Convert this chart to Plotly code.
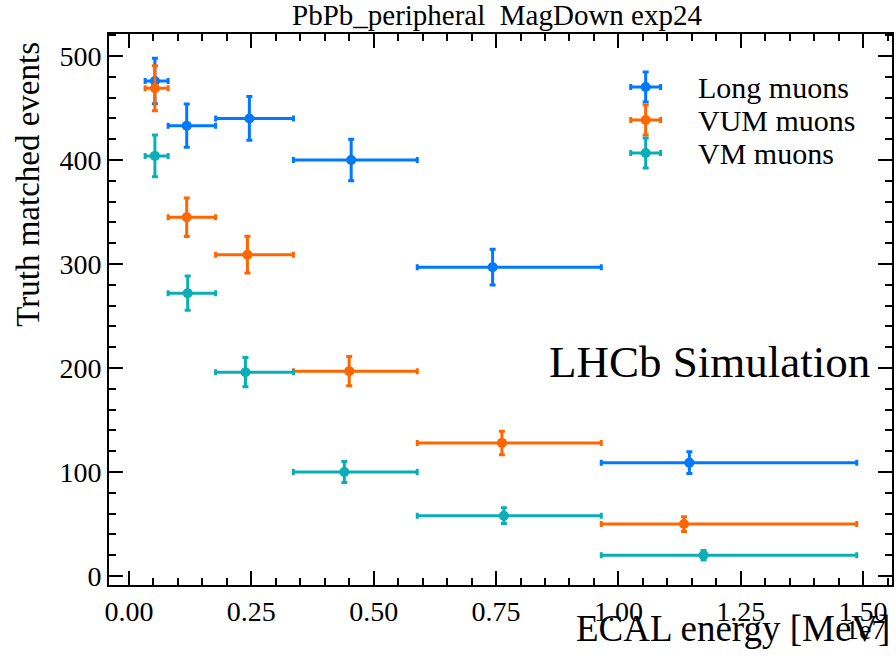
import plotly.graph_objects as go

# Bin edges in ECAL energy
bin_lo = [0.033, 0.080, 0.177, 0.336, 0.589, 0.965]
bin_hi = [0.080, 0.177, 0.336, 0.589, 0.965, 1.487]

# Mean energy in each bin, counts and uncertainties per muon category
long_x = [0.053, 0.118, 0.246, 0.454, 0.743, 1.145]
long_y = [476, 433, 440, 400, 297, 109]
long_err = [21.8, 20.8, 21.0, 20.0, 17.2, 10.4]

vum_x = [0.053, 0.118, 0.242, 0.450, 0.762, 1.134]
vum_y = [469, 345, 309, 197, 128, 50]
vum_err = [21.7, 18.6, 17.6, 14.0, 11.3, 7.1]

vm_x = [0.053, 0.120, 0.238, 0.440, 0.766, 1.174]
vm_y = [404, 272, 196, 100, 58, 20]
vm_err = [20.1, 16.5, 14.0, 10.0, 7.6, 4.5]

names = ["Long muons", "VUM muons", "VM muons"]
colors = ["#0078FF", "#FF6600", "#0AAFB6"]
series = list(zip(names, [long_x, vum_x, vm_x], [long_y, vum_y, vm_y],
                  [long_err, vum_err, vm_err], colors))

FONT = "Liberation Serif"

fig = go.Figure()
for name, xs, ys, es, col in series:
    plus = [h - x for h, x in zip(bin_hi, xs)]
    minus = [x - l for l, x in zip(bin_lo, xs)]
    fig.add_trace(go.Scatter(
        x=xs, y=ys, name=name, mode="markers", showlegend=False,
        marker=dict(color=col, size=10, symbol="circle"),
        error_y=dict(type="data", array=es, color=col, thickness=3, width=3),
        error_x=dict(type="data", array=plus, arrayminus=minus, color=col,
                     thickness=3, width=3),
    ))

# Legend: error-bar cross glyphs on an overlay axis spanning the plot area,
# with the entry labels as text next to them
leg_x = 0.6854
leg_rows = [0.9038, 0.8439, 0.7840]
leg_dx = 0.0191
leg_dy = 0.0272
for name, col, ly in zip(names, colors, leg_rows):
    fig.add_trace(go.Scatter(
        x=[leg_x], y=[ly], mode="markers", showlegend=False, hoverinfo="skip",
        xaxis="x2", yaxis="y2",
        marker=dict(color=col, size=10, symbol="circle"),
        error_y=dict(type="data", array=[leg_dy], color=col, thickness=3, width=3),
        error_x=dict(type="data", array=[leg_dx], color=col, thickness=3, width=3),
    ))
    fig.add_annotation(text=name, xref="paper", yref="paper", x=0.7503, y=ly,
                       xanchor="left", yanchor="middle", showarrow=False,
                       font=dict(family=FONT, size=30, color="black"))

axis_common = dict(
    showline=True, linecolor="black", linewidth=2, mirror="allticks",
    ticks="inside", ticklen=14, tickwidth=2, tickcolor="black",
    showgrid=False, zeroline=False,
    tickfont=dict(family=FONT, size=28, color="black"),
)

fig.update_xaxes(
    range=[-0.0408, 1.559], tickmode="array",
    tickvals=[0, 0.25, 0.5, 0.75, 1.0, 1.25, 1.5],
    ticktext=["0.00", "0.25", "0.50", "0.75", "1.00", "1.25", "1.50"],
    minor=dict(dtick=0.05, tick0=0, ticks="inside", ticklen=7, tickwidth=1.5,
               tickcolor="black", showgrid=False),
    **axis_common,
)
fig.update_yaxes(
    range=[-8.65, 521.2], tickmode="array",
    tickvals=[0, 100, 200, 300, 400, 500],
    minor=dict(dtick=20, tick0=0, ticks="inside", ticklen=7, tickwidth=1.5,
               tickcolor="black", showgrid=False),
    **axis_common,
)

fig.update_layout(
    xaxis2=dict(overlaying="x", range=[0, 1], visible=False, fixedrange=True),
    yaxis2=dict(overlaying="y", range=[0, 1], visible=False, fixedrange=True),
)

fig.add_annotation(text="PbPb_peripheral  MagDown exp24", xref="paper", yref="paper",
                   x=0.4955, y=1.0, yshift=1, xanchor="center", yanchor="bottom",
                   showarrow=False, font=dict(family=FONT, size=29, color="black"))
fig.add_annotation(text="Truth matched events", xref="paper", yref="paper",
                   x=-0.1045, y=0.989, xanchor="center", yanchor="top", textangle=-90,
                   showarrow=False, font=dict(family=FONT, size=33, color="black"))
fig.add_annotation(text="ECAL energy [MeV]", xref="paper", yref="paper",
                   x=1.0, y=0, yshift=-66, xanchor="right", yanchor="bottom",
                   showarrow=False, font=dict(family=FONT, size=37, color="black"))
fig.add_annotation(text="1e7", xref="paper", yref="paper",
                   x=1.0, y=0, yshift=-62, xshift=-5, xanchor="right", yanchor="bottom",
                   showarrow=False, font=dict(family=FONT, size=28, color="black"))
fig.add_annotation(text="LHCb Simulation", xref="paper", yref="paper",
                   x=0.975, y=0.405, xanchor="right", yanchor="middle",
                   showarrow=False, font=dict(family=FONT, size=45, color="black"))

fig.update_layout(
    width=896, height=658,
    margin=dict(l=109, r=2, t=34, b=73),
    paper_bgcolor="white", plot_bgcolor="white",
    showlegend=False,
)

fig.write_html("out.html")
